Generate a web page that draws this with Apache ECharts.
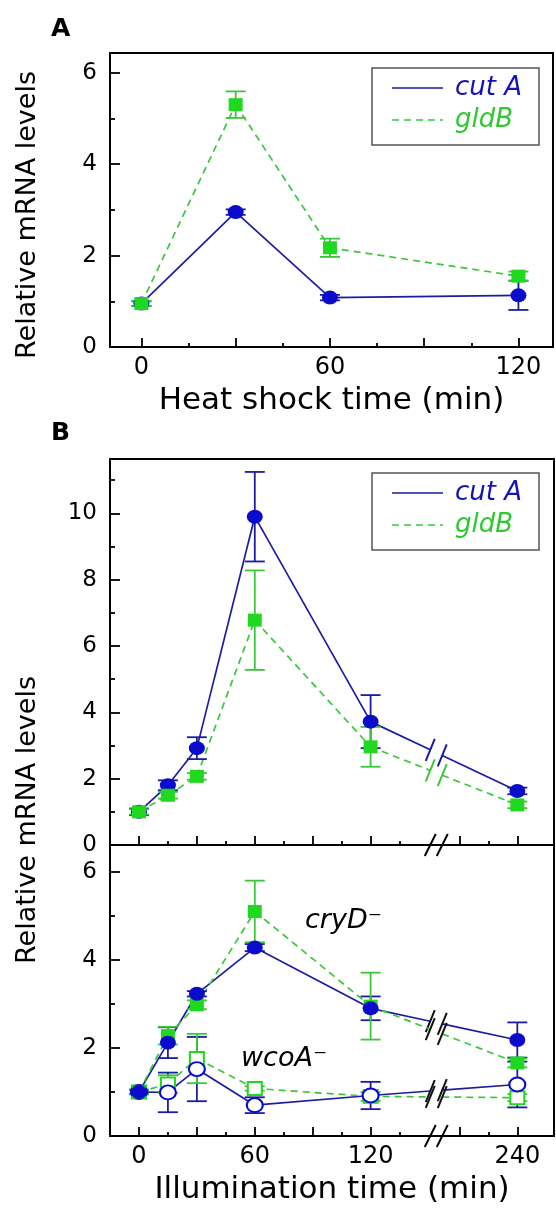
<!DOCTYPE html>
<html>
<head>
<meta charset="utf-8">
<script src="https://cdn.jsdelivr.net/npm/echarts@6/dist/echarts.min.js"></script>
<style>
  html, body { margin: 0; background: #fff; }
  #chart { width: 556px; height: 1209px; }
</style>
</head>
<body>
<div id="chart"></div>
<script>
// panel A: heat shock
const heatTime = [0, 30, 60, 120];
const heatCutA = [0.95, 2.95, 1.08, 1.13];
const heatCutAErr = [0.05, 0.06, 0.06, 0.32];
const heatGldB = [0.95, 5.3, 2.17, 1.55];
const heatGldBErr = [0.05, 0.29, 0.2, 0.1];

// panel B: illumination (wild type, cryD-, wcoA-)
const lightTime = [0, 15, 30, 60, 120, 240];
const wtCutA = [1.0, 1.8, 2.92, 9.9, 3.72, 1.63];
const wtCutAErr = [0.1, 0.15, 0.33, 1.35, 0.8, 0.1];
const wtGldB = [1.0, 1.5, 2.07, 6.78, 2.96, 1.21];
const wtGldBErr = [0.08, 0.1, 0.1, 1.5, 0.6, 0.1];
const cryCutA = [1.0, 2.12, 3.23, 4.28, 2.9, 2.18];
const cryCutAErr = [0.05, 0.35, 0.06, 0.08, 0.27, 0.4];
const cryGldB = [1.0, 2.28, 2.98, 5.1, 2.95, 1.66];
const cryGldBErr = [0.05, 0.2, 0.1, 0.7, 0.76, 0.1];
const wcoCutA = [1.0, 0.99, 1.52, 0.7, 0.92, 1.17];
const wcoCutAErr = [0.05, 0.45, 0.73, 0.18, 0.31, 0.52];
const wcoGldB = [1.0, 1.18, 1.76, 1.08, 0.9, 0.87];
const wcoGldBErr = [0.05, 0.2, 0.56, 0.05, 0.1, 0.08];

// ticks
const heatTicks = [0, 30, 60, 90, 120];
const heatMinor = [15, 45, 75, 105];
const heatLabels = [0, 60, 120];
const lightTicks = [0, 30, 60, 90, 120, 210, 240];
const lightMinor = [15, 45, 75, 105, 135, 225];
const lightLabels = [0, 60, 120, 240];
const yTicksA = [0, 2, 4, 6], yMinorA = [1, 3, 5];
const yTicksB1 = [0, 2, 4, 6, 8, 10], yMinorB1 = [1, 3, 5, 7, 9, 11];
const yTicksB2 = [0, 2, 4, 6], yMinorB2 = [1, 3, 5];

// broken time axis: 154..198 min is cut out
const breakFrom = 154, breakTo = 198;
const tx = t => (t >= breakTo ? t - (breakTo - breakFrom) : t);
const untx = v => (v > breakFrom ? v + (breakTo - breakFrom) : v);
const same = t => t;

const blueLine = '#1c1ca0', blueMark = '#0b0bcc';
const greenLine = '#3cc63c', greenMark = '#20d820';
const FONT = 'DejaVu Sans';

const chart = echarts.init(document.getElementById('chart'));

function xPair(grid, min, max, map, major, minor, labels, showLabels, name) {
  const base = { type: 'value', gridIndex: grid, min, max, position: 'bottom', splitLine: { show: false } };
  return [
    {
      ...base,
      axisLine: { show: true, onZero: false, lineStyle: { color: '#000', width: 2 } },
      axisTick: { show: true, inside: true, length: 9, customValues: major.map(map), lineStyle: { color: '#000', width: 1.8 } },
      axisLabel: {
        show: showLabels, customValues: labels.map(map), margin: 9, fontSize: 24, color: '#000',
        formatter: v => String(Math.round(map === tx ? untx(v) : v))
      },
      name, nameLocation: 'middle', nameGap: 38,
      nameTextStyle: { fontSize: 31, color: '#000' }
    },
    {
      ...base,
      axisLine: { show: false, onZero: false },
      axisTick: { show: true, inside: true, length: 4, customValues: minor.map(map), lineStyle: { color: '#000', width: 1.8 } },
      axisLabel: { show: false }
    }
  ];
}

function yPair(grid, max, major, minor) {
  const base = { type: 'value', gridIndex: grid, min: 0, max, position: 'left', splitLine: { show: false } };
  return [
    {
      ...base,
      axisLine: { show: true, onZero: false, lineStyle: { color: '#000', width: 2 } },
      axisTick: { show: true, inside: true, length: 10, customValues: major, lineStyle: { color: '#000', width: 1.8 } },
      axisLabel: { show: true, customValues: major, margin: 13, fontSize: 23, color: '#000' }
    },
    {
      ...base,
      axisLine: { show: false, onZero: false },
      axisTick: { show: true, inside: true, length: 5, customValues: minor, lineStyle: { color: '#000', width: 1.8 } },
      axisLabel: { show: false }
    }
  ];
}

// line segments between consecutive points, split with slashes where they cross the axis break
function segSeries(axis, xs, ys, map, color, dashed, slashColor) {
  const data = [];
  for (let i = 0; i < xs.length - 1; i++) data.push([map(xs[i]), ys[i], map(xs[i + 1]), ys[i + 1]]);
  return {
    type: 'custom', xAxisIndex: axis, yAxisIndex: axis, data, silent: true,
    encode: { x: [0, 2], y: [1, 3] },
    renderItem: (params, api) => {
      const a = api.coord([api.value(0), api.value(1)]);
      const b = api.coord([api.value(2), api.value(3)]);
      const style = { stroke: color, lineWidth: 1.7, lineDash: dashed ? [7, 5] : null, fill: null };
      if (!(api.value(0) < breakFrom && api.value(2) > breakFrom)) {
        return { type: 'line', shape: { x1: a[0], y1: a[1], x2: b[0], y2: b[1] }, style };
      }
      const bx = api.coord([breakFrom, 0])[0];
      const at = x => [x, a[1] + (b[1] - a[1]) * (x - a[0]) / (b[0] - a[0])];
      const p = at(bx - 6), q = at(bx + 6);
      const slash = pt => ({
        type: 'line',
        shape: { x1: pt[0] - 4.5, y1: pt[1] + 11, x2: pt[0] + 4.5, y2: pt[1] - 11 },
        style: { stroke: slashColor, lineWidth: 2 }
      });
      return {
        type: 'group',
        children: [
          { type: 'line', shape: { x1: a[0], y1: a[1], x2: p[0], y2: p[1] }, style },
          { type: 'line', shape: { x1: q[0], y1: q[1], x2: b[0], y2: b[1] }, style },
          slash(p), slash(q)
        ]
      };
    }
  };
}

function errSeries(axis, xs, ys, es, map, color) {
  return {
    type: 'custom', xAxisIndex: axis, yAxisIndex: axis, silent: true,
    data: xs.map((x, i) => [map(x), ys[i], es[i]]),
    encode: { x: 0, y: 1 },
    renderItem: (params, api) => {
      const x = api.value(0), y = api.value(1), e = api.value(2);
      const top = api.coord([x, y + e]), bot = api.coord([x, y - e]);
      const style = { stroke: color, lineWidth: 1.8 };
      const w = 10;
      return {
        type: 'group',
        children: [
          { type: 'line', shape: { x1: top[0], y1: top[1], x2: bot[0], y2: bot[1] }, style },
          { type: 'line', shape: { x1: top[0] - w, y1: top[1], x2: top[0] + w, y2: top[1] }, style },
          { type: 'line', shape: { x1: bot[0] - w, y1: bot[1], x2: bot[0] + w, y2: bot[1] }, style }
        ]
      };
    }
  };
}

function markSeries(axis, xs, ys, map, shape, color, hollow) {
  return {
    type: 'scatter', xAxisIndex: axis, yAxisIndex: axis, silent: true,
    data: xs.map((x, i) => [map(x), ys[i]]),
    symbol: shape,
    symbolSize: shape === 'circle' ? [16, 14] : [14, 13],
    itemStyle: hollow
      ? { color: '#fff', borderColor: color, borderWidth: 2, opacity: 1 }
      : { color, opacity: 1 }
  };
}

const gridBase = { show: true, borderColor: '#000', borderWidth: 2, backgroundColor: 'transparent' };

const option = {
  animation: false,
  textStyle: { fontFamily: FONT },
  grid: [
    { ...gridBase, left: 110, top: 53, width: 443, height: 294 },
    { ...gridBase, left: 110, top: 459, width: 444, height: 386 },
    { ...gridBase, left: 110, top: 845, width: 444, height: 291 }
  ],
  xAxis: [
    ...xPair(0, -10, 131, same, heatTicks, heatMinor, heatLabels, true, 'Heat shock time (min)'),
    ...xPair(1, -15, 215, tx, lightTicks, lightMinor, lightLabels, false, ''),
    ...xPair(2, -15, 215, tx, lightTicks, lightMinor, lightLabels, true, 'Illumination time (min)')
  ],
  yAxis: [
    ...yPair(0, 6.43, yTicksA, yMinorA),
    ...yPair(1, 11.64, yTicksB1, yMinorB1),
    ...yPair(2, 6.61, yTicksB2, yMinorB2)
  ],
  series: [
    // A
    segSeries(0, heatTime, heatCutA, same, blueLine, false, blueLine),
    segSeries(0, heatTime, heatGldB, same, greenLine, true, greenLine),
    errSeries(0, heatTime, heatCutA, heatCutAErr, same, blueLine),
    errSeries(0, heatTime, heatGldB, heatGldBErr, same, greenLine),
    markSeries(0, heatTime, heatCutA, same, 'circle', blueMark, false),
    markSeries(0, heatTime, heatGldB, same, 'rect', greenMark, false),
    // B upper: wild type
    segSeries(2, lightTime, wtCutA, tx, blueLine, false, blueLine),
    segSeries(2, lightTime, wtGldB, tx, greenLine, true, greenLine),
    errSeries(2, lightTime, wtCutA, wtCutAErr, tx, blueLine),
    errSeries(2, lightTime, wtGldB, wtGldBErr, tx, greenLine),
    markSeries(2, lightTime, wtCutA, tx, 'circle', blueMark, false),
    markSeries(2, lightTime, wtGldB, tx, 'rect', greenMark, false),
    // B lower: cryD- and wcoA-
    segSeries(4, lightTime, wcoCutA, tx, blueLine, false, '#111'),
    segSeries(4, lightTime, wcoGldB, tx, greenLine, true, '#111'),
    segSeries(4, lightTime, cryCutA, tx, blueLine, false, '#111'),
    segSeries(4, lightTime, cryGldB, tx, greenLine, true, '#111'),
    errSeries(4, lightTime, wcoCutA, wcoCutAErr, tx, blueLine),
    errSeries(4, lightTime, wcoGldB, wcoGldBErr, tx, greenLine),
    errSeries(4, lightTime, cryCutA, cryCutAErr, tx, blueLine),
    errSeries(4, lightTime, cryGldB, cryGldBErr, tx, greenLine),
    markSeries(4, lightTime, wcoGldB, tx, 'rect', greenMark, true),
    markSeries(4, lightTime, wcoCutA, tx, 'circle', blueMark, true),
    markSeries(4, lightTime, cryGldB, tx, 'rect', greenMark, false),
    markSeries(4, lightTime, cryCutA, tx, 'circle', blueMark, false)
  ]
};

chart.setOption(option);

// legends, titles, labels and the axis break marks
function legend(top) {
  const txt = (y, text, fill) => ({
    type: 'text', x: 455, y,
    style: { text, fill, font: 'italic 26px "DejaVu Sans"', verticalAlign: 'middle' }
  });
  return [
    { type: 'rect', shape: { x: 372, y: top, width: 167, height: 77 }, style: { fill: '#fff', stroke: '#555', lineWidth: 1.5 } },
    { type: 'line', shape: { x1: 392, y1: top + 20, x2: 443, y2: top + 20 }, style: { stroke: blueLine, lineWidth: 1.7 } },
    { type: 'line', shape: { x1: 392, y1: top + 52, x2: 443, y2: top + 52 }, style: { stroke: greenLine, lineWidth: 1.7, lineDash: [7, 5] } },
    txt(top + 20, 'cut A', '#1414b4'),
    txt(top + 52, 'gldB', '#30c830')
  ];
}

function axisBreak(xAxisIndex, yAxisIndex) {
  const bx = chart.convertToPixel({ xAxisIndex }, breakFrom);
  const by = chart.convertToPixel({ yAxisIndex }, 0);
  const sl = x => ({
    type: 'line', shape: { x1: x - 5.5, y1: by + 11, x2: x + 5.5, y2: by - 11 },
    style: { stroke: '#000', lineWidth: 2 }
  });
  return [
    { type: 'rect', shape: { x: bx - 6, y: by - 3, width: 12, height: 6 }, style: { fill: '#fff' } },
    sl(bx - 6), sl(bx + 6)
  ];
}

const yTitle = y => ({
  type: 'text', x: 28, y, rotation: Math.PI / 2,
  style: { text: 'Relative mRNA levels', font: '27px "DejaVu Sans"', fill: '#000', align: 'center', verticalAlign: 'middle' }
});
const panel = (y, text) => ({
  type: 'text', x: 51, y,
  style: { text, font: 'bold 25px "DejaVu Sans"', fill: '#000', verticalAlign: 'middle' }
});
const note = (x, y, text) => ({
  type: 'text', x, y,
  style: { text, font: 'italic 27px "DejaVu Sans"', fill: '#000', verticalAlign: 'middle' }
});

chart.setOption({
  graphic: [
    ...legend(68),
    ...legend(473),
    ...axisBreak(2, 2),
    ...axisBreak(4, 4),
    yTitle(215),
    yTitle(820),
    panel(29, 'A'),
    panel(433, 'B'),
    note(305, 921, 'cryD\u207B'),
    note(241, 1059, 'wcoA\u207B')
  ]
});
</script>
</body>
</html>
